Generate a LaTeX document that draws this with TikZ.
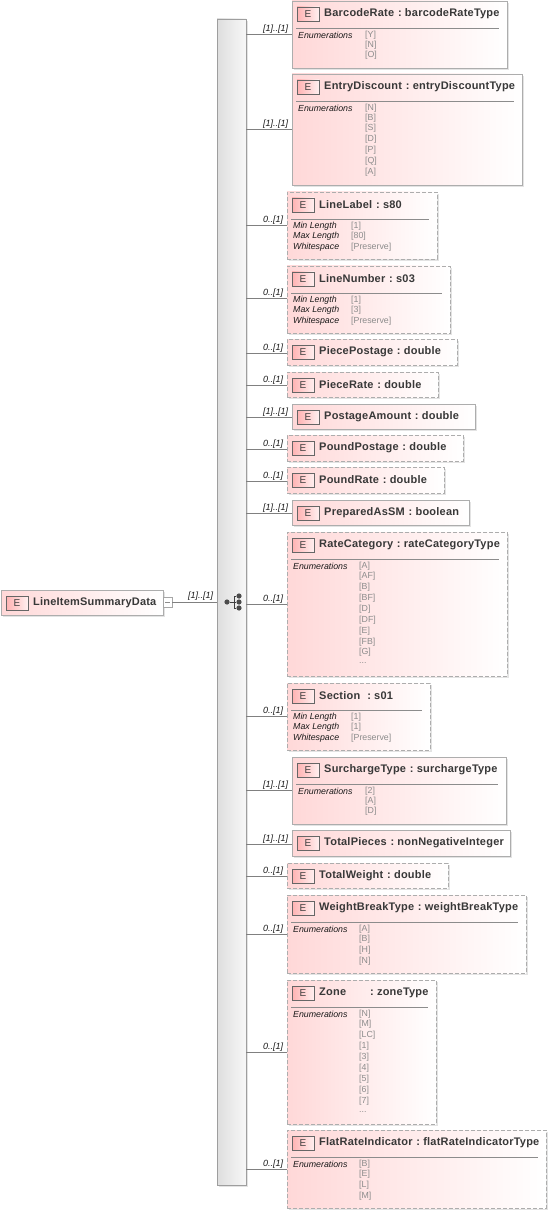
\documentclass[tikz,border=0pt]{standalone}
\usepackage{fontspec}
\setmainfont{Liberation Sans}
\newfontfamily\titlefont[LetterSpace=2]{Liberation Sans}
\definecolor{lbl}{gray}{0.1}
\definecolor{valc}{gray}{0.55}
\definecolor{edgec}{gray}{0.68}
\definecolor{pinkl}{RGB}{255,216,216}
\newcommand{\cl}{\hspace*{3.8pt}:~}
\tikzset{
  elembase/.style={anchor=north west,inner sep=0,outer sep=0,left color=pinkl,right color=white,draw=edgec,line width=0.9pt},
  solidbox/.style={elembase},
  dashbox/.style={elembase,dash pattern=on 4pt off 2pt},
  shade box/.style={fill=black!11,draw=none},
  badge/.style={anchor=north west,inner sep=0,outer sep=0,minimum width=22pt,minimum height=14pt,draw=black!60,line width=0.8pt,left color=red!30,right color=red!6,text=black!75,font=\fontsize{10}{10}\selectfont},
  titletext/.style={anchor=west,inner sep=0,font=\titlefont\fontsize{11}{12}\selectfont\bfseries,text=black!78},
  sepline/.style={draw=black!45,line width=0.7pt},
  attrname/.style={anchor=west,inner sep=0,font=\fontsize{8.8}{9}\selectfont\itshape,text=lbl},
  attrval/.style={anchor=west,inner sep=0,font=\fontsize{8.8}{9}\selectfont,text=valc},
  card/.style={anchor=west,inner sep=0,font=\fontsize{9}{10}\selectfont\itshape,text=lbl},
  conn/.style={draw=black!50,line width=0.7pt},
  seqmark/.style={draw=black!75,line width=0.9pt},
  seqdot/.style={circle,fill=black!70,inner sep=0,minimum size=5.2pt},
}
% id, x0, y0, x1, y1, style, title
\newcommand{\elem}[7]{%
  \pgfmathsetmacro{\bw}{#4-#2}\pgfmathsetmacro{\bh}{#5-#3}%
  \fill[shade box] (#2+2,#3+2) rectangle (#4+2,#5+2);
  \node[#6,minimum width=\bw pt,minimum height=\bh pt] (#1) at (#2,#3) {};
  \node[badge] (#1-e) at (#2+5,#3+6) {E};
  \node[titletext] (#1-t) at (#2+32,#3+12.8) {#7};
}
\newcommand{\sepl}[4]{\draw[sepline] (#2+4,#3+27) -- (#4-8,#3+27);}
\newcommand{\enumhead}[3]{\node[attrname] (#1-h) at (#2+6,#3+34) {Enumerations};}
\newcommand{\val}[4]{\node[attrval] (#1) at (#2,#3) {#4};}
\newcommand{\cn}[3]{%
  \coordinate (#1-c) at (246,#2);
  \draw[conn] (#1-c) -- (#1-c -| #1.west);
  \node[card] (#1-l) at (263,#2-5) {#3};
}
\newcommand{\lenrows}[3]{%
  \node[attrname] (#1-a) at (293,#2+34) {Min Length};
  \node[attrname] (#1-b) at (293,#2+44) {Max Length};
  \node[attrname] (#1-d) at (293,#2+55) {Whitespace};
  \val{#1-v1}{351}{#2+34}{[1]}
  \val{#1-v2}{351}{#2+44}{[#3]}
  \val{#1-v3}{351}{#2+55}{[Preserve]}
}
\begin{document}
\begin{tikzpicture}[x=1pt,y=-1pt]
\useasboundingbox (0,0) rectangle (550,1214);
% column bar
\fill[shade box] (219,21) rectangle (248,1187);
\node[anchor=north west,inner sep=0,outer sep=0,minimum width=29pt,minimum height=1166pt,left color=black!13,right color=black!3,draw=black!38,line width=0.8pt] (bar) at (217,19) {};
% root
\fill[shade box] (3,592) rectangle (165,617);
\node[solidbox,minimum width=162pt,minimum height=25pt] (root) at (1,590) {};
\node[badge] (root-e) at (6,596) {E};
\node[titletext] (root-t) at (33,602.5) {LineItemSummaryData};
\node[anchor=west,inner sep=0,outer sep=0,minimum width=9pt,minimum height=10pt,draw=black!35,fill=white,line width=0.7pt] (minus) at (163,602.5) {};
\draw[black!45,line width=0.7pt] (165,602.5) -- (170,602.5);
\draw[conn] (minus.east) -- (minus.east -| bar.west);
\node[card] (root-l) at (188,596) {[1]..[1]};
% sequence symbol
\node[seqdot] (sq) at (227,602) {};
\node[seqdot] (sq1) at (239,596) {};
\node[seqdot] (sq2) at (239,602) {};
\node[seqdot] (sq3) at (239,608) {};
\draw[seqmark] (sq) -- (sq2);
\draw[seqmark] (sq1) -| (234,608) -- (sq3);
% elements
\elem{bc}{292}{1}{507}{68}{solidbox}{BarcodeRate\cl barcodeRateType}
\sepl{bc}{292}{1}{507}\enumhead{bc}{292}{1}
\val{bc1}{365}{35}{[Y]}\val{bc2}{365}{45}{[N]}\val{bc3}{365}{55}{[O]}
\cn{bc}{34}{[1]..[1]}
\elem{ed}{292}{74}{522}{185}{solidbox}{EntryDiscount\cl entryDiscountType}
\sepl{ed}{292}{74}{522}\enumhead{ed}{292}{74}
\val{ed1}{365}{108}{[N]}\val{ed2}{365}{118}{[B]}\val{ed3}{365}{128.5}{[S]}\val{ed4}{365}{139.5}{[D]}\val{ed5}{365}{150.5}{[P]}\val{ed6}{365}{161.5}{[Q]}\val{ed7}{365}{172.5}{[A]}
\cn{ed}{129}{[1]..[1]}
\elem{ll}{287}{192}{437}{259}{dashbox}{LineLabel\cl s80}
\sepl{ll}{287}{192}{437}\lenrows{ll}{192}{80}
\cn{ll}{225}{0..[1]}
\elem{ln}{287}{266}{450}{333}{dashbox}{LineNumber\cl s03}
\sepl{ln}{287}{266}{450}\lenrows{ln}{266}{3}
\cn{ln}{298}{0..[1]}
\elem{pp}{287}{339}{457}{365}{dashbox}{PiecePostage\cl double}
\cn{pp}{353}{0..[1]}
\elem{pr}{287}{372}{438}{397}{dashbox}{PieceRate\cl double}
\cn{pr}{385}{0..[1]}
\elem{pa}{292}{404}{475}{429}{solidbox}{PostageAmount\cl double}
\cn{pa}{417}{[1]..[1]}
\elem{pop}{287}{435}{463}{461}{dashbox}{PoundPostage\cl double}
\cn{pop}{449}{0..[1]}
\elem{por}{287}{467}{444}{493}{dashbox}{PoundRate\cl double}
\cn{por}{481}{0..[1]}
\elem{pas}{292}{500}{469}{525}{solidbox}{PreparedAsSM\cl boolean}
\cn{pas}{513}{[1]..[1]}
\elem{rc}{287}{532}{507}{676}{dashbox}{RateCategory\cl rateCategoryType}
\sepl{rc}{287}{532}{507}\enumhead{rc}{287}{532}
\val{rc1}{359}{566}{[A]}\val{rc2}{359}{576}{[AF]}\val{rc3}{359}{587}{[B]}\val{rc4}{359}{598}{[BF]}\val{rc5}{359}{609}{[D]}\val{rc6}{359}{620}{[DF]}\val{rc7}{359}{631}{[E]}\val{rc8}{359}{642}{[FB]}\val{rc9}{359}{652}{[G]}\val{rc10}{359}{663}{...}
\cn{rc}{604}{0..[1]}
\elem{se}{287}{683}{430}{750}{dashbox}{Section\hspace*{7pt}:~s01}
\sepl{se}{287}{683}{430}\lenrows{se}{683}{1}
\cn{se}{716}{0..[1]}
\elem{su}{292}{757}{506}{824}{solidbox}{SurchargeType\cl surchargeType}
\sepl{su}{292}{757}{506}\enumhead{su}{292}{757}
\val{su1}{365}{791}{[2]}\val{su2}{365}{801}{[A]}\val{su3}{365}{811}{[D]}
\cn{su}{790}{[1]..[1]}
\elem{tp}{292}{830}{510}{856}{solidbox}{TotalPieces\cl nonNegativeInteger}
\cn{tp}{844}{[1]..[1]}
\elem{tw}{287}{863}{448}{888}{dashbox}{TotalWeight\cl double}
\cn{tw}{876}{0..[1]}
\elem{wb}{287}{895}{526}{973}{dashbox}{WeightBreakType\cl weightBreakType}
\sepl{wb}{287}{895}{526}\enumhead{wb}{287}{895}
\val{wb1}{359}{929}{[A]}\val{wb2}{359}{939}{[B]}\val{wb3}{359}{950}{[H]}\val{wb4}{359}{961}{[N]}
\cn{wb}{934}{0..[1]}
\elem{zo}{287}{980}{436}{1124}{dashbox}{Zone\hspace*{24pt}:~zoneType}
\sepl{zo}{287}{980}{436}\enumhead{zo}{287}{980}
\val{zo1}{359}{1014}{[N]}\val{zo2}{359}{1024}{[M]}\val{zo3}{359}{1035}{[LC]}\val{zo4}{359}{1046}{[1]}\val{zo5}{359}{1057}{[3]}\val{zo6}{359}{1068}{[4]}\val{zo7}{359}{1079}{[5]}\val{zo8}{359}{1090}{[6]}\val{zo9}{359}{1101}{[7]}\val{zo10}{359}{1112}{...}
\cn{zo}{1052}{0..[1]}
\elem{fr}{287}{1130}{546}{1208}{dashbox}{FlatRateIndicator\cl flatRateIndicatorType}
\sepl{fr}{287}{1130}{546}\enumhead{fr}{287}{1130}
\val{fr1}{359}{1164}{[B]}\val{fr2}{359}{1174}{[E]}\val{fr3}{359}{1185}{[L]}\val{fr4}{359}{1196}{[M]}
\cn{fr}{1169}{0..[1]}
\end{tikzpicture}
\end{document}
